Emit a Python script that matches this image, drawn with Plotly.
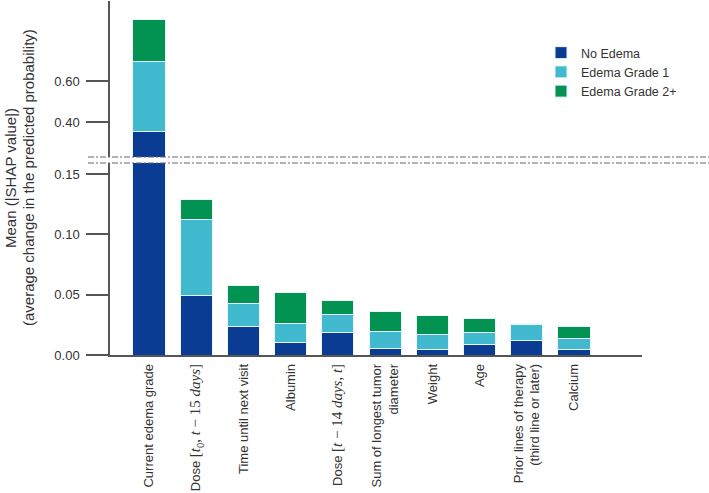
import plotly.graph_objects as go

MATH = "<span style=\"font-family:'Liberation Serif', 'DejaVu Serif', serif;font-size:15px\">{}</span>"

categories = [
    "Current edema grade",
    "Dose " + MATH.format("[<i>t</i><sub>0</sub>, <i>t</i> − 15 <i>days</i>]"),
    "Time until next visit",
    "Albumin",
    "Dose " + MATH.format("[<i>t</i> − 14 <i>days</i>, <i>t</i>]"),
    "Sum of longest tumor<br>diameter",
    "Weight",
    "Age",
    "Prior lines of therapy<br>(third line or later)",
    "Calcium",
]
no_edema = [0.353, 0.0497, 0.0236, 0.0103, 0.0189, 0.0056, 0.0042, 0.0083, 0.0117, 0.0042]
edema_grade1 = [0.341, 0.0627, 0.0194, 0.0161, 0.0144, 0.0138, 0.0125, 0.0106, 0.0133, 0.0094]
edema_grade2 = [0.204, 0.0166, 0.0145, 0.0250, 0.0117, 0.0170, 0.0164, 0.0111, 0.0014, 0.0097]

series_names = ["No Edema", "Edema Grade 1", "Edema Grade 2+"]
series_values = [no_edema, edema_grade1, edema_grade2]
colors = ["#0B3C93", "#41BAD0", "#029353"]

lower_ticks = [0.0, 0.05, 0.10, 0.15]
upper_ticks = [0.40, 0.60]

title_line1 = "Mean (|SHAP value|)"
title_line2 = "(average change in the predicted probability)"

FONT = "Liberation Sans, Arial, sans-serif"
TXT = "#333333"
AX = "#555555"

fig = go.Figure()
for name, vals, col in zip(series_names, series_values, colors):
    fig.add_trace(go.Bar(x=categories, y=vals, name=name, marker_color=col,
                         marker_line=dict(color="#EAF6F8", width=1),
                         xaxis="x", yaxis="y", showlegend=True))
for name, vals, col in zip(series_names, series_values, colors):
    fig.add_trace(go.Bar(x=categories, y=vals, name=name, marker_color=col,
                         marker_line=dict(color="#EAF6F8", width=1),
                         xaxis="x", yaxis="y2", showlegend=False))

W, H = 709, 493
L, R, T, B = 110, 709 - 642, 1, 493 - 355
pw = W - L - R
ph = H - T - B
lower_top_px = 163
upper_bot_px = 157
bottom_px = 355
low_dom = [0, (bottom_px - lower_top_px) / ph]
up_dom = [(bottom_px - upper_bot_px) / ph, 1]
low_scale = 1207.0
up_scale = 205.0
low_range = [0, (bottom_px - lower_top_px) / low_scale]
up_range = [0.40 - (upper_bot_px - 122) / up_scale, 0.40 + (122 - T) / up_scale]

yax_common = dict(showline=True, linecolor=AX, linewidth=1.5, ticks="outside",
                  ticklen=22, tickcolor=AX, tickwidth=1.5, showgrid=False,
                  zeroline=False, tickformat=".2f", ticklabelstandoff=4,
                  automargin=False,
                  tickfont=dict(family=FONT, size=13, color=TXT))

fig.update_layout(
    width=W, height=H,
    margin=dict(l=L, r=R, t=T, b=B, pad=0, autoexpand=False),
    paper_bgcolor="white", plot_bgcolor="white",
    barmode="stack", bargap=0.32,
    font=dict(family=FONT, size=13, color=TXT),
    xaxis=dict(domain=[0, 1], anchor="y", range=[-0.826, 10.44],
               showline=True, linecolor=AX, linewidth=1.5, ticks="",
               tickangle=-90, showgrid=False, ticklabelstandoff=2,
               automargin=False,
               tickfont=dict(family=FONT, size=13, color=TXT)),
    yaxis=dict(domain=low_dom, range=low_range, anchor="x",
               tickvals=lower_ticks, **yax_common),
    yaxis2=dict(domain=up_dom, range=up_range, anchor="x",
                tickvals=upper_ticks, **yax_common),
    legend=dict(x=(541 - L) / pw, y=1 - (38 - T) / ph,
                xanchor="left", yanchor="top", traceorder="normal",
                bgcolor="rgba(0,0,0,0)", font=dict(family=FONT, size=12.5, color=TXT),
                itemwidth=30, tracegroupgap=0),
)

for ypx in (upper_bot_px, lower_top_px):
    yp = (bottom_px - ypx) / ph
    fig.add_shape(type="line", xref="paper", yref="paper",
                  x0=(88 - L) / pw, x1=(709 - L) / pw,
                  y0=yp, y1=yp, line=dict(color="#666666", width=1, dash="6px,2px,2px,2px"))

for txt, xc in ((title_line1, 10), (title_line2, 28)):
    fig.add_annotation(xref="paper", yref="paper",
                       x=(xc - L) / pw, y=(bottom_px - 178) / ph,
                       text=txt, textangle=-90, showarrow=False,
                       xanchor="center", yanchor="middle",
                       font=dict(family=FONT, size=15, color=TXT))

fig.write_html("out.html", config={"displayModeBar": False},
               post_script="document.body.style.margin='0';")
